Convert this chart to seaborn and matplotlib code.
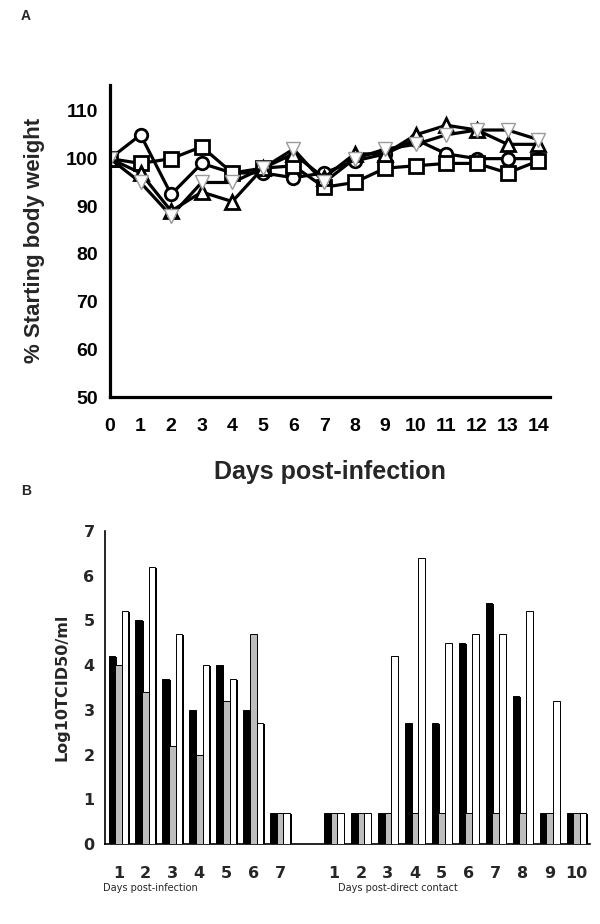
import numpy as np
import pandas as pd
import matplotlib
matplotlib.use("Agg")
import matplotlib.pyplot as plt
import matplotlib.transforms as mtransforms
from matplotlib.patches import Rectangle
import seaborn as sns

# ---- panel A: body weight ----
days = list(range(15))
circle_w = [100, 105, 92.5, 99, 97, 97, 96, 97, 99.5, 101, 104, 101, 100, 100, 100]
square_w = [100, 99, 100, 102.5, 97, 98, 98.5, 94, 95, 98, 98.5, 99, 99, 97, 99.5]
uptri_w = [100, 97, 89, 93, 91, 98, 101, 96, 101, 101, 105, 107, 106, 103, 103]
downtri_w = [100, 95, 88, 95, 95, 98, 102, 95, 100, 102, 103, 105, 106, 106, 104]

# ---- panel B: virus titres ----
slots = ["i1", "i2", "i3", "i4", "i5", "i6", "i7", "gap",
         "c1", "c2", "c3", "c4", "c5", "c6", "c7", "c8", "c9", "c10"]
slot_labels = ["1", "2", "3", "4", "5", "6", "7", "",
               "1", "2", "3", "4", "5", "6", "7", "8", "9", "10"]
data_slots = [s for s in slots if s != "gap"]
black_v = [4.2, 5.0, 3.7, 3.0, 4.0, 3.0, 0.7,
           0.7, 0.7, 0.7, 2.7, 2.7, 4.5, 5.4, 3.3, 0.7, 0.7]
gray_v = [4.0, 3.4, 2.2, 2.0, 3.2, 4.7, 0.7,
          0.7, 0.7, 0.7, 0.7, 0.7, 0.7, 0.7, 0.7, 0.7, 0.7]
white_v = [5.2, 6.2, 4.7, 4.0, 3.7, 2.7, 0.7,
           0.7, 0.7, 4.2, 6.4, 4.5, 4.7, 4.7, 5.2, 3.2, 0.7]

sns.set_style("white")
plt.rcParams["font.family"] = ["Liberation Sans", "DejaVu Sans"]

fig = plt.figure(figsize=(6, 9.24), dpi=100)

# 上のグラフ
ax1 = fig.add_axes([0.1833, 0.5703, 0.734, 0.338])
series = [
    (circle_w, "o", "black", 9),
    (square_w, "s", "black", 10),
    (uptri_w, "^", "black", 10),
    (downtri_w, "v", "#9a9a9a", 10),
]
for vals, mk, mec, ms in series:
    df = pd.DataFrame({"day": days, "w": vals})
    sns.lineplot(data=df, x="day", y="w", ax=ax1, color="black", linewidth=2.3,
                 marker=mk, markersize=ms, markerfacecolor="white",
                 markeredgecolor=mec, markeredgewidth=2.0 if mec == "black" else 1.0)

ax1.set_xlim(0, 14.4)
ax1.set_ylim(50, 115.5)
ax1.set_xticks(days)
ax1.set_yticks(range(50, 111, 10))
for sp in ["top", "right"]:
    ax1.spines[sp].set_visible(False)
for sp in ["left", "bottom"]:
    ax1.spines[sp].set_linewidth(2.3)
    ax1.spines[sp].set_color("black")
ax1.tick_params(direction="out", length=7, width=2.3, labelsize=14, pad=1.5, colors="black")
ax1.tick_params(axis="x", pad=8)
for t in ax1.get_xticklabels() + ax1.get_yticklabels():
    t.set_fontweight("bold")
ax1.set_xlabel("Days post-infection", fontsize=18, fontweight="bold", labelpad=18)
ax1.set_ylabel("% Starting body weight", fontsize=16, fontweight="bold")
ax1.yaxis.set_label_coords(-0.148, 0.5)
fig.text(0.035, 0.983, "A", fontsize=10, fontweight="bold", va="center")

# 下のグラフ
ax2 = fig.add_axes([0.175, 0.0866, 0.8083, 0.3387])
long = pd.DataFrame({
    "slot": data_slots * 3,
    "titre": black_v + gray_v + white_v,
    "grp": ["a"] * 17 + ["b"] * 17 + ["c"] * 17,
})
sns.barplot(data=long, x="slot", y="titre", hue="grp", order=slots,
            hue_order=["a", "b", "c"], palette=["black", "#bdbdbd", "white"],
            width=0.74, edgecolor="black", linewidth=0.7, errorbar=None,
            legend=False, ax=ax2, zorder=3)

# 影 (右下にずらした黒い棒)
shift = mtransforms.ScaledTranslation(1.5 / 100, -1.0 / 100, fig.dpi_scale_trans)
for p in list(ax2.patches):
    if p.get_height() > 0:
        sh = Rectangle(p.get_xy(), p.get_width(), p.get_height(),
                       facecolor="black", edgecolor="none",
                       transform=ax2.transData + shift, zorder=2)
        ax2.add_patch(sh)

ax2.set_xlim(-0.5, len(slots) - 0.5)
ax2.set_ylim(0, 7)
ax2.set_yticks(range(0, 8))
ax2.set_xticks(np.arange(len(slots) + 1) - 0.5)
ax2.set_xticklabels([])
ax2.set_xticks(np.arange(len(slots)), minor=True)
ax2.set_xticklabels(slot_labels, minor=True)
ax2.tick_params(axis="x", which="major", direction="out", length=4, width=1.2)
ax2.tick_params(axis="x", which="minor", length=0, pad=16, labelsize=11.5)
ax2.tick_params(axis="y", direction="out", length=4, width=1.2, labelsize=11.5)
for t in ax2.get_xticklabels(minor=True) + ax2.get_yticklabels():
    t.set_fontweight("bold")
    t.set_family("DejaVu Sans")
for sp in ["top", "right"]:
    ax2.spines[sp].set_visible(False)
for sp in ["left", "bottom"]:
    ax2.spines[sp].set_linewidth(1.2)
    ax2.spines[sp].set_color("black")
ax2.set_xlabel("")
ax2.set_ylabel("Log10TCID50/ml", fontsize=11.5, fontweight="bold",
               family="DejaVu Sans", labelpad=10)
fig.text(0.172, 0.039, "Days post-infection", fontsize=7, family="DejaVu Sans", va="center")
fig.text(0.563, 0.039, "Days post-direct contact", fontsize=7, family="DejaVu Sans", va="center")
fig.text(0.035, 0.469, "B", fontsize=10, fontweight="bold", va="center")

fig.savefig("out.png", dpi=100)
